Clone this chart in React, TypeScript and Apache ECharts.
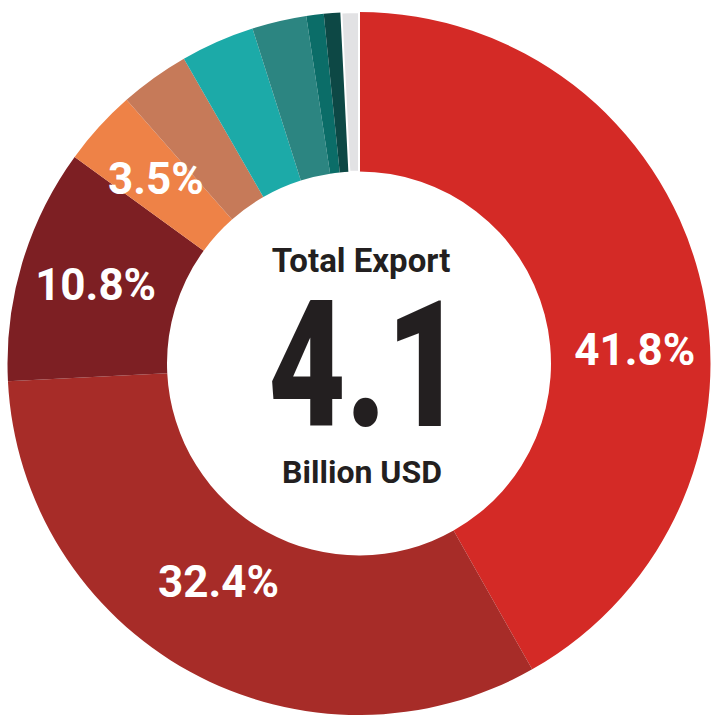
import React, { useEffect, useRef } from "react";
import * as echarts from "echarts";

const categories = ["A", "B", "C", "D", "E", "F", "G", "H", "I", "J"];
const values = [41.8, 32.4, 10.8, 3.5, 3.2, 3.4, 2.5, 0.8, 0.8, 0.8];
const labels = ["41.8%", "32.4%", "10.8%", "3.5%", "", "", "", "", "", ""];
const colors = [
  "#d42a26",
  "#a72c28",
  "#7d1f23",
  "#ee8247",
  "#c67a59",
  "#1caaa8",
  "#2c8581",
  "#0b6d68",
  "#0d4845",
  "#e2e2e4",
];
const centerTitle = "Total Export";
const centerValue = "4.1";
const centerUnit = "Billion USD";

export default function App() {
  const ref = useRef<HTMLDivElement>(null);
  useEffect(() => {
    if (!ref.current) return;
    const chart = echarts.init(ref.current, null, { renderer: "svg" });
    const data = values.map((v, i) => ({
      name: categories[i],
      value: v,
      itemStyle: {
        color: colors[i],
        borderColor: "#ffffff",
        borderWidth: i === 9 ? 2 : 0,
      },
      label: { show: labels[i] !== "", formatter: labels[i] },
    }));
    chart.setOption({
      animation: false,
      backgroundColor: "#ffffff",
      series: [
        {
          type: "pie",
          center: [359, 363.5],
          radius: [192, 351.5],
          startAngle: 90,
          clockwise: true,
          avoidLabelOverlap: false,
          label: {
            position: "inside",
            color: "#ffffff",
            fontFamily: "Roboto",
            fontWeight: "bold",
            fontSize: 44,
          },
          labelLine: { show: false },
          labelLayout: (p: any) => {
            if (p.dataIndex === 0) return { dx: 10, dy: 56 };
            if (p.dataIndex === 1) return { dx: -8, dy: -22 };
            return {};
          },
          emphasis: { disabled: true },
          data,
        },
      ],
      graphic: [
        {
          type: "text",
          x: 361,
          y: 260,
          style: {
            text: centerTitle,
            fill: "#231f20",
            font: "bold 33px Roboto",
            textAlign: "center",
            textVerticalAlign: "middle",
          },
        },
        {
          type: "text",
          x: 366,
          y: 366,
          scaleX: 0.76,
          style: {
            text: centerValue,
            fill: "#231f20",
            font: "900 176px Roboto",
            textAlign: "center",
            textVerticalAlign: "middle",
          },
        },
        {
          type: "text",
          x: 362,
          y: 472,
          style: {
            text: centerUnit,
            fill: "#231f20",
            font: "bold 32px Roboto",
            textAlign: "center",
            textVerticalAlign: "middle",
          },
        },
      ],
    });
    return () => chart.dispose();
  }, []);
  return (
    <div
      ref={ref}
      style={{ position: "absolute", left: 0, top: 0, width: 713, height: 720 }}
    />
  );
}
